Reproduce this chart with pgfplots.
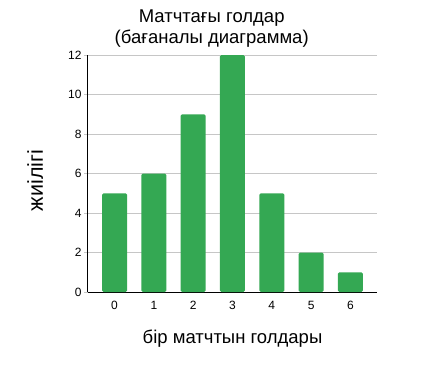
\documentclass[border=0pt]{standalone}
\usepackage{fontspec}
\setmainfont{Liberation Sans}
\usepackage{pgfplots}
\pgfplotsset{compat=1.18}
\definecolor{bargreen}{HTML}{34A853}
\begin{document}
\begin{tikzpicture}[x=1pt,y=1pt]
\useasboundingbox (-88,-86) rectangle (333,292);
\begin{axis}[
  at={(0,0)}, anchor=south west,
  scale only axis, width=289pt, height=237pt,
  xmin=-0.675, xmax=6.675, ymin=0, ymax=12,
  ytick={0,2,...,12}, xtick={0,...,6},
  axis lines*=left,
  axis line style={black, line width=1pt},
  ymajorgrids, grid style={draw=gray!45, line width=0.8pt},
  tick align=outside, major tick length=4pt,
  y tick style={draw=gray!45, line width=0.8pt},
  x tick style={draw=none},
  /pgf/number format/assume math mode=true,
  tick label style={font=\fontsize{12}{14}\selectfont},
  yticklabel style={xshift=1pt},
  xticklabel style={yshift=-2pt},
  title={Матчтағы голдар\\(бағаналы диаграмма)},
  title style={align=center, font=\fontsize{18.5}{21}\selectfont, at={(axis description cs:0.428,1.088)}, anchor=center},
  xlabel={бір матчтын голдары},
  xlabel style={font=\fontsize{18.5}{21}\selectfont, at={(axis description cs:0.5,-0.197)}, anchor=center},
  ylabel={жиілігі},
  ylabel style={font=\fontsize{21.5}{24}\selectfont, at={(axis description cs:-0.183,0.47)}, anchor=center, rotate=0},
]
\addplot[ybar, bar width=25pt, fill=bargreen, draw=none, rounded corners=1.5pt] coordinates {
(0,5) (1,6) (2,9) (3,12) (4,5) (5,2) (6,1)
};
\end{axis}
\end{tikzpicture}
\end{document}
